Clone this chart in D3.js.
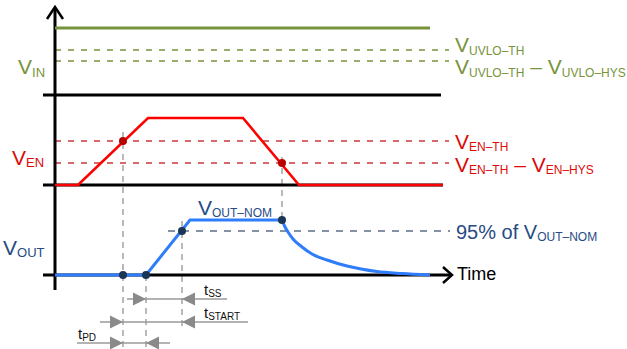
<!DOCTYPE html>
<html><head><meta charset="utf-8">
<script src="https://cdn.jsdelivr.net/npm/d3@7"></script>
<style>html,body{margin:0;padding:0;background:#fff;}svg{display:block;}</style>
</head><body>
<script>
// ---- data (time in arbitrary units, levels in arbitrary units) ----
const vinT = [0, 375];
const vinV = [67, 67];
const uvloLevels = [45, 34];
const enT = [0, 23, 93, 188, 244, 388];
const enV = [0, 0, 67, 67, 0, 0];
const enLevels = [44, 22];
const voutT = [0, 91, 135, 227];
const voutV = [0, 0, 55, 55];
const decayT = [227, 230, 233, 238, 247, 257, 272, 292, 322, 347, 375];
const decayV = [55, 48, 43, 36, 28, 21, 15, 9, 3.5, 1.5, 0];
const vout95 = 44;
const eventT = { enTh: 68, ssStart: 91, reach95: 127, enOff: 227 };
const timingNames = ["SS", "START", "PD"];
const timingFrom = [91, 68, 68];
const timingTo = [127, 127, 91];

const W = 627, H = 349;
const font = "'Liberation Sans', Arial, sans-serif";
const GREEN = "#77933c", RED = "#ff0000", REDTXT = "#dd0a0a", REDDASH = "#c8393b",
      BLUE = "#2f7dfa", NAVY = "#264b85", DOT = "#1b3557", GRAY = "#a3a3a3";

const svg = d3.select("body").append("svg").attr("width", W).attr("height", H);

const x = d3.scaleLinear().domain([0, 397]).range([55, 452]);
const yIn = d3.scaleLinear().domain([0, 90]).range([95, 5]);
const yEn = d3.scaleLinear().domain([0, 90]).range([185, 95]);
const yOut = d3.scaleLinear().domain([0, 90]).range([275, 185]);

function label(g, px, py, parts, color, big, small, shift) {
  const t = g.append("text").attr("x", px).attr("y", py)
    .attr("fill", color).attr("font-family", font).attr("font-size", big);
  let cur = 0;
  parts.forEach(p => {
    const s = p[1] ? shift : 0;
    t.append("tspan").attr("dy", s - cur).attr("font-size", p[1] ? small : big)
      .style("white-space", "pre").text(p[0]);
    cur = s;
  });
  return t;
}

// ---- grey dashed event guides ----
const guides = [
  [eventT.enTh, 132, 347],
  [eventT.ssStart, yOut(0), 347],
  [eventT.reach95, 221, 331],
  [eventT.enOff, 157, yOut(55)]
];
svg.selectAll("line.guide").data(guides).join("line")
  .attr("x1", d => x(d[0])).attr("x2", d => x(d[0]))
  .attr("y1", d => d[1]).attr("y2", d => d[2])
  .attr("stroke", GRAY).attr("stroke-width", 1.5).attr("stroke-dasharray", "6,5");

// ---- threshold dashed lines ----
svg.selectAll("line.uvlo").data(uvloLevels).join("line")
  .attr("x1", x(0)).attr("x2", 449).attr("y1", d => yIn(d)).attr("y2", d => yIn(d))
  .attr("stroke", GREEN).attr("stroke-width", 1.3).attr("stroke-dasharray", "6,7");
svg.selectAll("line.enl").data(enLevels).join("line")
  .attr("x1", x(0)).attr("x2", 449).attr("y1", d => yEn(d)).attr("y2", d => yEn(d))
  .attr("stroke", REDDASH).attr("stroke-width", 1.3).attr("stroke-dasharray", "6,7");
svg.append("line").attr("x1", 168).attr("x2", 450).attr("y1", yOut(vout95)).attr("y2", yOut(vout95))
  .attr("stroke", "#5d6e88").attr("stroke-width", 1.5).attr("stroke-dasharray", "7,7");

// ---- axes / baselines ----
svg.append("line").attr("x1", 43).attr("x2", 441).attr("y1", yIn(0)).attr("y2", yIn(0))
  .attr("stroke", "#000").attr("stroke-width", 3);
svg.append("line").attr("x1", 43).attr("x2", 443).attr("y1", yEn(0)).attr("y2", yEn(0))
  .attr("stroke", "#000").attr("stroke-width", 3);
svg.append("line").attr("x1", 43).attr("x2", x(396)).attr("y1", yOut(0)).attr("y2", yOut(0))
  .attr("stroke", "#000").attr("stroke-width", 3);
svg.append("path").attr("d", `M${x(397)-9},${yOut(0)-8}L${x(397)},${yOut(0)}L${x(397)-9},${yOut(0)+8}`)
  .attr("fill", "none").attr("stroke", "#000").attr("stroke-width", 2.5);
svg.append("line").attr("x1", x(0)).attr("x2", x(0)).attr("y1", 8).attr("y2", 290)
  .attr("stroke", "#000").attr("stroke-width", 3);
svg.append("path").attr("d", `M${x(0)-8},19L${x(0)},7L${x(0)+8},19`)
  .attr("fill", "none").attr("stroke", "#000").attr("stroke-width", 2.5);

// ---- traces ----
const line = (ys) => d3.line().x(d => x(d[0])).y(d => ys(d[1]));
svg.append("path").datum(d3.zip(vinT, vinV)).attr("d", line(yIn))
  .attr("fill", "none").attr("stroke", GREEN).attr("stroke-width", 3);
svg.append("path").datum(d3.zip(enT, enV)).attr("d", line(yEn))
  .attr("fill", "none").attr("stroke", RED).attr("stroke-width", 2.6).attr("stroke-linejoin", "miter");
svg.append("path").datum(d3.zip(voutT, voutV)).attr("d", line(yOut))
  .attr("fill", "none").attr("stroke", BLUE).attr("stroke-width", 3);
svg.append("path").datum(d3.zip(decayT, decayV)).attr("d", line(yOut).curve(d3.curveMonotoneX))
  .attr("fill", "none").attr("stroke", BLUE).attr("stroke-width", 3);

// ---- dots ----
const redDots = [[eventT.enTh, enLevels[0]], [eventT.enOff, enLevels[1]]];
svg.selectAll("circle.r").data(redDots).join("circle")
  .attr("cx", d => x(d[0])).attr("cy", d => yEn(d[1])).attr("r", 4).attr("fill", "#b80000");
const blueDots = [[eventT.enTh, 0], [eventT.ssStart, 0], [eventT.reach95, vout95], [eventT.enOff, 55]];
svg.selectAll("circle.b").data(blueDots).join("circle")
  .attr("cx", d => x(d[0])).attr("cy", d => yOut(d[1])).attr("r", 4).attr("fill", DOT);

// ---- timing arrows ----
const rowY = [299, 322, 343];
const lineFrom = [72, 45, 22], lineTo = [172, 193, 115];
timingNames.forEach((n, i) => {
  const yy = rowY[i];
  svg.append("line").attr("x1", x(lineFrom[i])).attr("x2", x(lineTo[i])).attr("y1", yy).attr("y2", yy)
    .attr("stroke", "#9a9a9a").attr("stroke-width", 1.6);
  const a = x(timingFrom[i]), b = x(timingTo[i]);
  svg.append("path").attr("d", `M${a},${yy}L${a-13},${yy-6.5}L${a-13},${yy+6.5}Z`).attr("fill", "#8a8a8a");
  svg.append("path").attr("d", `M${b},${yy}L${b+13},${yy-6.5}L${b+13},${yy+6.5}Z`).attr("fill", "#8a8a8a");
});
label(svg, 204, 295, [["t"], ["SS", 1]], "#111", 15, 10, 2);
label(svg, 204, 318, [["t"], ["START", 1]], "#111", 15, 10, 2);
label(svg, 78, 339, [["t"], ["PD", 1]], "#111", 15, 10, 2);

// ---- labels ----
label(svg, 18, 74, [["V"], ["IN", 1]], GREEN, 21, 13, 3);
label(svg, 12, 165, [["V"], ["EN", 1]], REDTXT, 21, 13, 2);
label(svg, 3, 255, [["V"], ["OUT", 1]], NAVY, 21, 13, 2);
label(svg, 455, 52, [["V"], ["UVLO–TH", 1]], GREEN, 21, 12, 3);
label(svg, 455, 74, [["V"], ["UVLO–TH", 1], [" – "], ["V"], ["UVLO–HYS", 1]], GREEN, 21, 12, 3);
label(svg, 455, 149, [["V"], ["EN–TH", 1]], REDTXT, 21, 12, 2);
label(svg, 455, 172, [["V"], ["EN–TH", 1], [" – "], ["V"], ["EN–HYS", 1]], REDTXT, 21, 12, 2);
label(svg, 198, 215, [["V"], ["OUT–NOM", 1]], NAVY, 21, 12, 2);
label(svg, 456, 239, [["95% of V"], ["OUT–NOM", 1]], NAVY, 20, 12, 2);
svg.append("text").attr("x", 457).attr("y", 280).attr("font-family", font).attr("font-size", 18)
  .attr("fill", "#000").text("Time");
</script>
</body></html>
